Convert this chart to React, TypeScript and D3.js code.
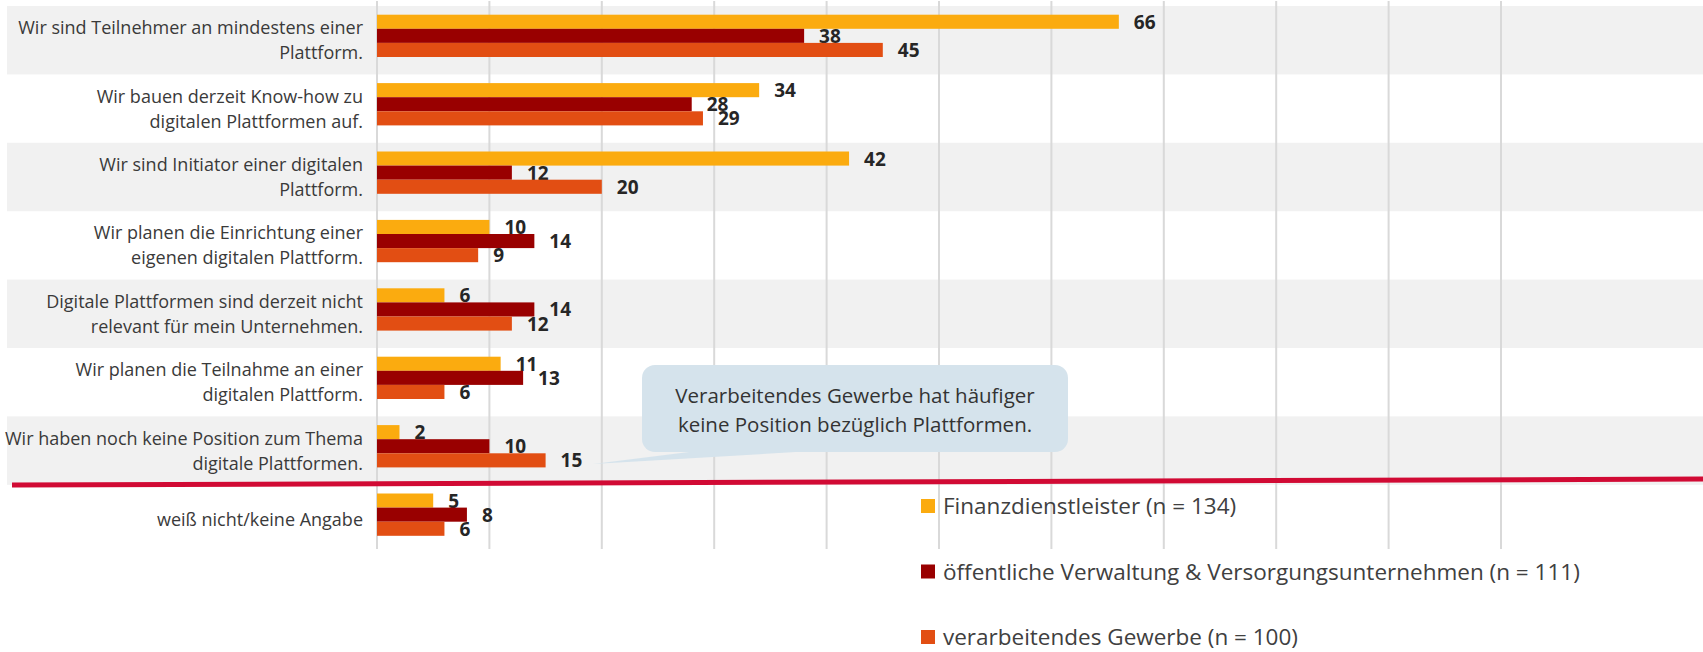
import React, { useEffect, useRef } from "react";
import * as d3 from "d3";

const categories = [
  "Wir sind Teilnehmer an mindestens einer\nPlattform.",
  "Wir bauen derzeit Know-how zu\ndigitalen Plattformen auf.",
  "Wir sind Initiator einer digitalen\nPlattform.",
  "Wir planen die Einrichtung einer\neigenen digitalen Plattform.",
  "Digitale Plattformen sind derzeit nicht\nrelevant für mein Unternehmen.",
  "Wir planen die Teilnahme an einer\ndigitalen Plattform.",
  "Wir haben noch keine Position zum Thema\ndigitale Plattformen.",
  "weiß nicht/keine Angabe",
];

const seriesNames = [
  "Finanzdienstleister (n = 134)",
  "öffentliche Verwaltung & Versorgungsunternehmen (n = 111)",
  "verarbeitendes Gewerbe (n = 100)",
];

const finanz = [66, 34, 42, 10, 6, 11, 2, 5];
const verwaltung = [38, 28, 12, 14, 14, 13, 10, 8];
const gewerbe = [45, 29, 20, 9, 12, 6, 15, 6];

const xTicks = [0, 10, 20, 30, 40, 50, 60, 70, 80, 90, 100];

const calloutLines = [
  "Verarbeitendes Gewerbe hat häufiger",
  "keine Position bezüglich Plattformen.",
];

const colors = ["#fbab0f", "#990000", "#e24e13"];

let width = 1703;
let height = 652;
let font = "'Open Sans', 'Noto Sans', sans-serif";

const App = () => {
  const ref = useRef<SVGSVGElement>(null);

  useEffect(() => {
    let svg = d3.select(ref.current);
    svg.selectAll("*").remove();

    let series = [finanz, verwaltung, gewerbe];

    let xScale = d3.scaleLinear().domain([0, 100]).range([377, 1501]);
    let yScale = d3
      .scaleBand()
      .domain(categories)
      .range([6, 6 + 68.4 * categories.length]);
    let barScale = d3
      .scaleBand()
      .domain(seriesNames)
      .range([8.7, 8.7 + 42.3]);

    // alternating background bands
    svg
      .append("g")
      .selectAll("rect")
      .data(categories.filter((c, i) => i % 2 === 0))
      .enter()
      .append("rect")
      .attr("x", 7)
      .attr("y", (c) => yScale(c)!)
      .attr("width", width - 7)
      .attr("height", yScale.bandwidth())
      .attr("fill", "#f1f1f1");

    // vertical gridlines
    svg
      .append("g")
      .selectAll("line")
      .data(xTicks)
      .enter()
      .append("line")
      .attr("x1", (d) => xScale(d))
      .attr("x2", (d) => xScale(d))
      .attr("y1", 1)
      .attr("y2", 549)
      .attr("stroke", "#d9d9d9")
      .attr("stroke-width", 2);

    // bars + value labels
    series.forEach((values, j) => {
      let g = svg.append("g");
      g.selectAll("rect")
        .data(values)
        .enter()
        .append("rect")
        .attr("x", xScale(0))
        .attr("y", (d, i) => yScale(categories[i])! + barScale(seriesNames[j])!)
        .attr("width", (d) => xScale(d) - xScale(0))
        .attr("height", barScale.bandwidth())
        .attr("fill", colors[j]);

      g.selectAll("text")
        .data(values)
        .enter()
        .append("text")
        .attr("x", (d) => xScale(d) + 15)
        .attr(
          "y",
          (d, i) =>
            yScale(categories[i])! +
            barScale(seriesNames[j])! +
            barScale.bandwidth() / 2 +
            7
        )
        .attr("font-family", font)
        .attr("font-weight", "bold")
        .attr("font-size", 19)
        .attr("fill", "#262626")
        .text((d) => d);
    });

    // category labels
    let labels = svg
      .append("g")
      .selectAll("text")
      .data(categories)
      .enter()
      .append("text")
      .attr("text-anchor", "end")
      .attr("font-family", font)
      .attr("font-size", 18)
      .attr("fill", "#3a3a3a");

    labels.each(function (c) {
      let lines = c.split("\n");
      let mid = yScale(c)! + yScale.bandwidth() / 2 + 6.5;
      let start = mid - ((lines.length - 1) * 25) / 2;
      lines.forEach((line, k) => {
        d3.select(this)
          .append("tspan")
          .attr("x", 363)
          .attr("y", start + k * 25)
          .text(line);
      });
    });

    // red separator line
    svg
      .append("line")
      .attr("x1", 12)
      .attr("y1", 485)
      .attr("x2", width)
      .attr("y2", 479)
      .attr("stroke", "#d10a34")
      .attr("stroke-width", 5);

    // callout
    let callout = svg.append("g");
    callout
      .append("polygon")
      .attr("points", "593,464 705,450 830,450")
      .attr("fill", "#d5e3ec");
    callout
      .append("rect")
      .attr("x", 642)
      .attr("y", 365)
      .attr("width", 426)
      .attr("height", 87)
      .attr("rx", 13)
      .attr("fill", "#d5e3ec");
    callout
      .selectAll("text")
      .data(calloutLines)
      .enter()
      .append("text")
      .attr("x", 855)
      .attr("y", (d, i) => 403 + i * 29)
      .attr("text-anchor", "middle")
      .attr("font-family", font)
      .attr("font-size", 20.5)
      .attr("fill", "#333333")
      .text((d) => d);

    // legend
    let legend = svg
      .append("g")
      .selectAll("g")
      .data(seriesNames)
      .enter()
      .append("g")
      .attr("transform", (d, i) => "translate(921, " + (506 + i * 65.5) + ")");

    legend
      .append("rect")
      .attr("x", 0)
      .attr("y", -7)
      .attr("width", 14)
      .attr("height", 14)
      .attr("fill", (d, i) => colors[i]);

    legend
      .append("text")
      .attr("x", 22)
      .attr("y", 8)
      .attr("font-family", font)
      .attr("font-size", 22.5)
      .attr("fill", "#404040")
      .text((d) => d);
  }, []);

  return (
    <div style={{ position: "absolute", left: 0, top: 0 }}>
      <svg ref={ref} width={width} height={height} style={{ display: "block" }}></svg>
    </div>
  );
};

export default App;
